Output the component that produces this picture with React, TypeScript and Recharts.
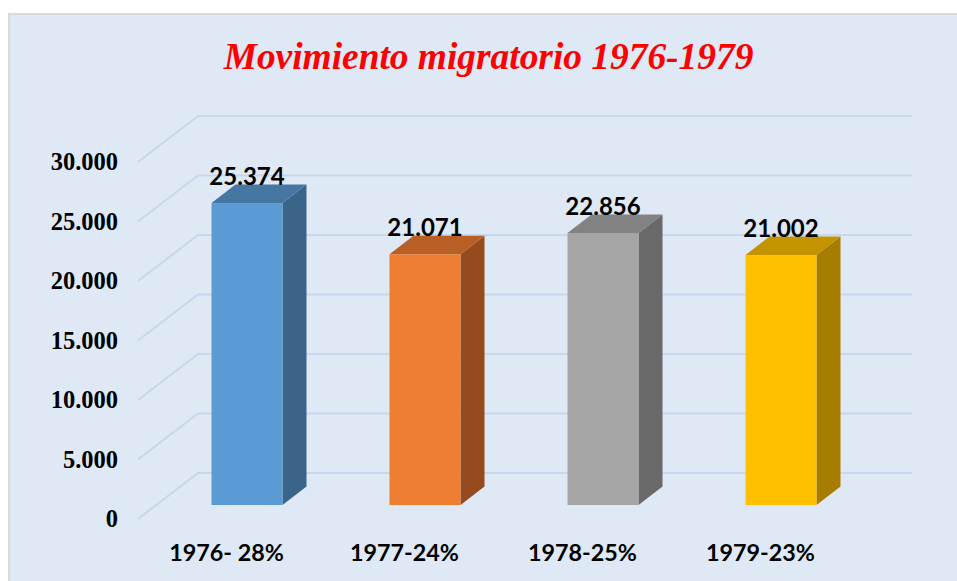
import React from "react";
import { BarChart, Bar, XAxis, YAxis, CartesianGrid, LabelList } from "recharts";

const categories = ["1976- 28%", "1977-24%", "1978-25%", "1979-23%"];
const values = [25374, 21071, 22856, 21002];
const yTicks = [0, 5000, 10000, 15000, 20000, 25000, 30000];
const frontColors = ["#5B9BD5", "#ED7D31", "#A5A5A5", "#FFC000"];
const topColors = ["#4676A2", "#B85F25", "#828282", "#C49300"];
const sideColors = ["#3A6488", "#964B1E", "#696969", "#A67D00"];

const data = categories.map((category, i) => ({ category, value: values[i] }));
const fmt = (n: number) => String(n).replace(/\B(?=(\d{3})+$)/g, ".");

const DX = 24;
const DY = 18.5;

function Bar3D(props: any) {
  const { x, y, width, height, index } = props;
  const r = x + width;
  const b = y + height;
  return (
    <g>
      <path d={`M${r},${y}L${r + DX},${y - DY}L${r + DX},${b - DY}L${r},${b}Z`} fill={sideColors[index]} />
      <path d={`M${x},${y}L${x + DX},${y - DY}L${r + DX},${y - DY}L${r},${y}Z`} fill={topColors[index]} />
      <rect x={x} y={y} width={width} height={height} fill={frontColors[index]} />
    </g>
  );
}

function GridLine(props: any) {
  const { y1, index } = props;
  return (
    <path
      key={index}
      d={`M138,${y1 + 14}L198,${y1 - 32}L912,${y1 - 32}`}
      fill="none"
      stroke="#C8D7ED"
      strokeWidth={2}
    />
  );
}

function YTick(props: any) {
  const { y, payload } = props;
  return (
    <text x={118} y={y + 22} textAnchor="end" style={{ fontFamily: "'Liberation Serif', serif", fontWeight: 700, fontSize: 24.5 }} fill="#000">
      {fmt(payload.value)}
    </text>
  );
}

function XTick(props: any) {
  const { x, payload } = props;
  return (
    <text x={x - 20} y={561} textAnchor="middle" style={{ fontFamily: "Lato, sans-serif", fontWeight: 700, fontSize: 23.3 }} fill="#000">
      {payload.value}
    </text>
  );
}

function ValueLabel(props: any) {
  const { x, y, width, value } = props;
  return (
    <text x={x + width / 2} y={y - 18} textAnchor="middle" style={{ fontFamily: "Lato, sans-serif", fontWeight: 700, fontSize: 24 }} fill="#000">
      {fmt(value)}
    </text>
  );
}

export default function App() {
  return (
    <div style={{ position: "absolute", left: 0, top: 0, width: 957, height: 581, background: "#fff", overflow: "hidden" }}>
      <div
        style={{
          position: "absolute",
          left: 8,
          top: 13,
          width: 960,
          height: 580,
          background: "#DEE9F5",
          border: "2px solid #D9D9D9",
          boxSizing: "border-box",
        }}
      />
      <div
        style={{
          position: "absolute",
          left: 0,
          top: 34,
          width: 977,
          textAlign: "center",
          fontFamily: "'Liberation Serif', serif",
          fontWeight: 700,
          fontStyle: "italic",
          fontSize: 37.4,
          lineHeight: "46px",
          color: "#FF0000",
        }}
      >
        Movimiento migratorio 1976-1979
      </div>
      <div style={{ position: "absolute", left: 0, top: 0 }}>
        <BarChart
          width={957}
          height={581}
          data={data}
          margin={{ top: 148, right: 87.5, bottom: 46, left: 57.5 }}
          barSize={71}
        >
          <CartesianGrid vertical={false} horizontal={GridLine as any} />
          <XAxis dataKey="category" height={30} axisLine={false} tickLine={false} tick={XTick as any} interval={0} />
          <YAxis
            width={100}
            domain={[0, 30000]}
            ticks={yTicks}
            axisLine={false}
            tickLine={false}
            tick={YTick as any}
            interval={0}
          />
          <Bar dataKey="value" shape={Bar3D as any} isAnimationActive={false}>
            <LabelList dataKey="value" content={ValueLabel as any} />
          </Bar>
        </BarChart>
      </div>
    </div>
  );
}
